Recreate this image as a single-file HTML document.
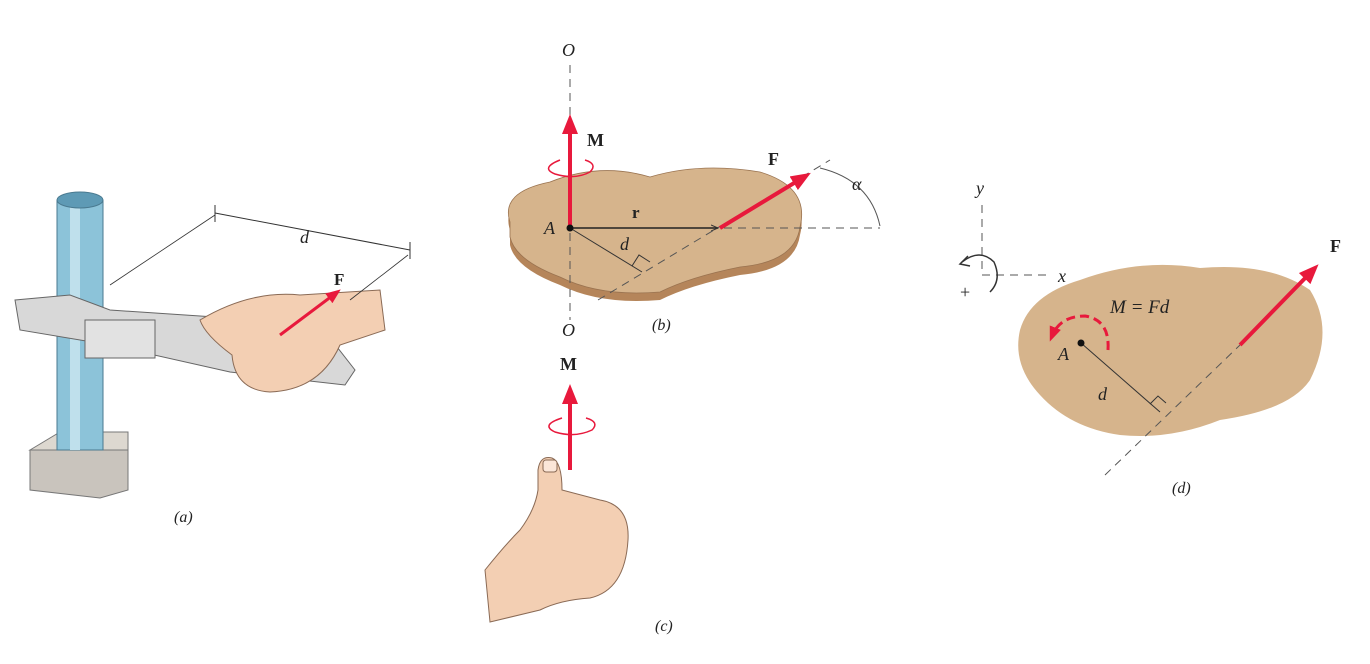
<!DOCTYPE html>
<html><head><meta charset="utf-8"><style>
html,body{margin:0;padding:0;background:#fff;}
svg{display:block;}
text{font-family:"Liberation Serif",serif;fill:#222;}
</style></head><body>
<svg width="1370" height="664" viewBox="0 0 1370 664">
<defs>
<marker id="ar" markerWidth="5" markerHeight="4" refX="3" refY="2" orient="auto" markerUnits="strokeWidth"><path d="M0,0 L5,2 L0,4 Z" fill="#e8193c"/></marker>
<marker id="ak" markerWidth="8" markerHeight="8" refX="7" refY="4" orient="auto" markerUnits="userSpaceOnUse"><path d="M0,1 L7,4 L0,7" fill="none" stroke="#333"/></marker>
</defs>
<!-- (a) -->
<g>
<polygon points="30,450 128,450 128,490 100,498 30,490" fill="#c9c4bd" stroke="#777"/>
<polygon points="30,450 60,432 128,432 128,450" fill="#ddd8d0" stroke="#777"/>
<rect x="57" y="200" width="46" height="250" fill="#8cc3d9" stroke="#4a7a90"/>
<rect x="70" y="200" width="10" height="250" fill="#bfe0ec"/>
<ellipse cx="80" cy="200" rx="23" ry="8" fill="#5e9ab5" stroke="#4a7a90"/>
<path d="M15,300 L70,295 L110,310 L230,318 L330,338 L355,370 L345,385 L230,372 L110,345 L20,330 Z" fill="#d8d8d8" stroke="#666"/>
<rect x="85" y="320" width="70" height="38" fill="#e2e2e2" stroke="#666"/>
<path d="M200,320 Q250,290 300,295 L380,290 L385,330 L340,345 Q320,390 270,392 Q235,390 232,355 Q205,335 200,320 Z" fill="#f3cfb3" stroke="#8a6a55"/>
<line x1="215" y1="213" x2="410" y2="250" stroke="#333"/>
<line x1="215" y1="205" x2="215" y2="222" stroke="#333"/><line x1="410" y1="242" x2="410" y2="259" stroke="#333"/>
<line x1="110" y1="285" x2="215" y2="215" stroke="#333" stroke-width="0.8"/>
<line x1="350" y1="300" x2="408" y2="255" stroke="#333" stroke-width="0.8"/>
<text x="300" y="243" font-style="italic" font-size="18">d</text>
<line x1="280" y1="335" x2="336" y2="293" stroke="#e8193c" stroke-width="3" marker-end="url(#ar)"/>
<text x="334" y="285" font-weight="bold" font-size="17">F</text>
<text x="174" y="522" font-style="italic" font-size="16">(a)</text>
</g>
<!-- (b) -->
<g>
<path d="M510,230 Q500,200 550,190 Q600,170 650,185 Q700,170 760,180 Q810,195 800,235 Q795,270 740,275 Q690,285 660,300 Q600,305 560,285 Q515,268 510,245 Z" fill="#b5855a"/>
<path d="M510,222 Q500,192 550,182 Q600,162 650,177 Q700,162 760,172 Q810,187 800,227 Q795,262 740,267 Q690,277 660,292 Q600,297 560,277 Q515,260 510,237 Z" fill="#d6b48c" stroke="#9a7350" stroke-width="0.8"/>
<line x1="570" y1="65" x2="570" y2="320" stroke="#555" stroke-dasharray="8,6"/>
<text x="562" y="56" font-style="italic" font-size="18">O</text>
<text x="562" y="336" font-style="italic" font-size="18">O</text>
<line x1="570" y1="228" x2="570" y2="122" stroke="#e8193c" stroke-width="4" marker-end="url(#ar)"/>
<path d="M560,160 Q540,168 555,174 Q575,180 590,172 Q598,164 585,160" fill="none" stroke="#e8193c" stroke-width="1.5"/>
<text x="587" y="146" font-weight="bold" font-size="18">M</text>
<line x1="570" y1="228" x2="880" y2="228" stroke="#555" stroke-dasharray="8,6"/>
<line x1="570" y1="228" x2="718" y2="228" stroke="#222" stroke-width="1.5" marker-end="url(#ak)"/>
<text x="632" y="218" font-weight="bold" font-size="17">r</text>
<line x1="598" y1="300" x2="830" y2="160" stroke="#555" stroke-dasharray="8,6"/>
<line x1="570" y1="228" x2="642" y2="272" stroke="#333"/>
<path d="M632,266 L639,255 L650,262" fill="none" stroke="#333"/>
<text x="620" y="250" font-style="italic" font-size="18">d</text>
<circle cx="570" cy="228" r="3.5" fill="#111"/>
<text x="544" y="234" font-style="italic" font-size="18">A</text>
<line x1="720" y1="228" x2="804" y2="177" stroke="#e8193c" stroke-width="4" marker-end="url(#ar)"/>
<text x="768" y="165" font-weight="bold" font-size="18">F</text>
<path d="M820,168 Q870,180 880,226" fill="none" stroke="#555"/>
<text x="852" y="190" font-style="italic" font-size="18">α</text>
<text x="652" y="330" font-style="italic" font-size="16">(b)</text>
</g>
<!-- (c) -->
<g>
<text x="560" y="370" font-weight="bold" font-size="18">M</text>
<line x1="570" y1="470" x2="570" y2="392" stroke="#e8193c" stroke-width="4" marker-end="url(#ar)"/>
<path d="M562,418 Q540,425 555,432 Q575,438 592,430 Q600,422 586,418" fill="none" stroke="#e8193c" stroke-width="1.5"/>
<path d="M538,470 Q540,455 552,458 Q562,462 562,490 L600,500 Q630,505 628,540 Q625,590 590,598 Q560,600 540,610 L490,622 L485,570 Q505,545 520,530 Q535,510 538,490 Z" fill="#f3cfb3" stroke="#8a6a55"/>
<rect x="543" y="460" width="14" height="12" rx="3" fill="#fbe6d8" stroke="#8a6a55"/>
<text x="655" y="631" font-style="italic" font-size="16">(c)</text>
</g>
<!-- (d) -->
<g>
<line x1="982" y1="205" x2="982" y2="275" stroke="#555" stroke-dasharray="8,6"/>
<line x1="982" y1="275" x2="1048" y2="275" stroke="#555" stroke-dasharray="8,6"/>
<text x="976" y="194" font-style="italic" font-size="18">y</text>
<text x="1058" y="282" font-style="italic" font-size="18">x</text>
<path d="M962,262 Q980,248 994,262 Q1002,280 990,292" fill="none" stroke="#333" stroke-width="1.5"/>
<path d="M968,256 L960,264 L970,266" fill="none" stroke="#333" stroke-width="1.5"/>
<text x="960" y="298" font-size="18">+</text>
<path d="M1020,330 Q1030,295 1080,280 Q1140,258 1200,268 Q1270,262 1310,290 Q1335,330 1310,380 Q1290,410 1220,420 Q1170,440 1120,435 Q1070,428 1040,395 Q1012,365 1020,330 Z" fill="#d6b48c"/>
<line x1="1105" y1="475" x2="1240" y2="345" stroke="#555" stroke-dasharray="8,6"/>
<line x1="1081" y1="343" x2="1160" y2="412" stroke="#333"/>
<path d="M1150,404 L1158,396 L1166,403" fill="none" stroke="#333"/>
<text x="1098" y="400" font-style="italic" font-size="18">d</text>
<circle cx="1081" cy="343" r="3.5" fill="#111"/>
<text x="1058" y="360" font-style="italic" font-size="18">A</text>
<path d="M1108,350 Q1110,320 1085,316 Q1060,316 1052,336" fill="none" stroke="#e8193c" stroke-width="3" stroke-dasharray="9,5" marker-end="url(#ar)"/>
<text x="1110" y="313" font-style="italic" font-size="19" font-family="Liberation Sans">M = Fd</text>
<line x1="1240" y1="345" x2="1313" y2="270" stroke="#e8193c" stroke-width="4" marker-end="url(#ar)"/>
<text x="1330" y="252" font-weight="bold" font-size="18">F</text>
<text x="1172" y="493" font-style="italic" font-size="16">(d)</text>
</g>
</svg>
</body></html>
